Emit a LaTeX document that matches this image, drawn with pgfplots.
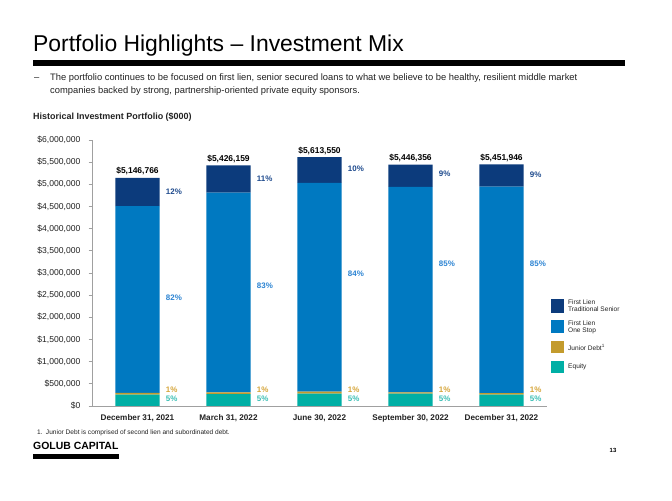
\documentclass[border=0pt]{standalone}
\usepackage{fontspec}
\setmainfont{Liberation Sans}
\usepackage{pgfplots}
\pgfplotsset{compat=1.18}
\usepackage{pgfplotstable}
\definecolor{navy}{HTML}{0C3B7C}
\definecolor{onestop}{HTML}{0079C1}
\definecolor{jrcol}{HTML}{C39B2D}
\definecolor{eqcol}{HTML}{00AFA5}
\definecolor{trlab}{HTML}{1F4B8E}
\definecolor{oslab}{HTML}{2C84D3}
\definecolor{jrlab}{HTML}{D6A53A}
\definecolor{eqlab}{HTML}{3BBFB5}
\definecolor{txt}{HTML}{222222}
\definecolor{axl}{HTML}{A0A0A0}
\pgfplotstableread{
x eq jr os tr
0 257000 40000 4210000 639766
1 265000 45000 4500000 616159
2 280000 45000 4710000 578550
3 280000 25000 4640000 501356
4 255000 35000 4660000 501946
}\datatab
\tikzset{
  totlab/.style={anchor=base, inner sep=0pt, font=\bfseries\fontsize{8.5}{10}\selectfont, text=black, yshift=4bp},
  pctlab/.style={anchor=west, inner sep=0pt, font=\bfseries\fontsize{8}{9}\selectfont, text=#1},
  leglab/.style={anchor=west, inner sep=0pt, align=left, text=txt, font=\fontsize{6.6}{7.3}\selectfont},
}
\begin{document}
\begin{tikzpicture}[x=1bp,y=1bp]
\fill[white] (0,0) rectangle (672,501);
% title
\node[anchor=base west, inner sep=0pt, font=\fontsize{23}{26}\selectfont] at (33,449) {Portfolio Highlights – Investment Mix};
\fill[black] (33,435) rectangle (625,441);
% bullet
\node[anchor=base west, inner sep=0pt, text=txt, font=\fontsize{9.4}{11}\selectfont] at (34,420) {–};
\node[anchor=base west, inner sep=0pt, text=txt, font=\fontsize{9.4}{11}\selectfont] at (50,420) {The portfolio continues to be focused on first lien, senior secured loans to what we believe to be healthy, resilient middle market};
\node[anchor=base west, inner sep=0pt, text=txt, font=\fontsize{9.4}{11}\selectfont] at (50,407.5) {companies backed by strong, partnership-oriented private equity sponsors.};
\node[anchor=base west, inner sep=0pt, text=txt, font=\bfseries\fontsize{9}{10}\selectfont] at (33,381) {Historical Investment Portfolio (\$000)};
\begin{axis}[
  at={(92bp,95bp)}, anchor=south west,
  scale only axis, width=455bp, height=266bp,
  xmin=-0.5, xmax=4.5, ymin=0, ymax=6000000,
  ybar stacked, bar width=0.484,
  axis x line*=bottom, axis y line*=left,
  axis line style={axl, line width=0.8pt},
  tick align=outside, major tick length=3.5bp,
  clip=false,
  scaled y ticks=false,
  ytick={0,500000,1000000,1500000,2000000,2500000,3000000,3500000,4000000,4500000,5000000,5500000,6000000},
  yticklabels={\$0,\$500{,}000,\$1{,}000{,}000,\$1{,}500{,}000,\$2{,}000{,}000,\$2{,}500{,}000,\$3{,}000{,}000,\$3{,}500{,}000,\$4{,}000{,}000,\$4{,}500{,}000,\$5{,}000{,}000,\$5{,}500{,}000,\$6{,}000{,}000},
  yticklabel style={font=\fontsize{8.6}{9}\selectfont, text=txt, inner sep=0pt, xshift=-8bp},
  ytick style={axl, line width=0.8pt},
  xtick={0,1,2,3,4},
  xticklabels={{December 31, 2021},{March 31, 2022},{June 30, 2022},{September 30, 2022},{December 31, 2022}},
  xticklabel style={font=\bfseries\fontsize{8.2}{9}\selectfont, text=txt, inner sep=0pt, yshift=-5bp},
  xtick style={draw=none},
  extra x ticks={-0.5,0.5,1.5,2.5,3.5,4.5},
  extra x tick labels={},
  extra x tick style={xtick style={axl, line width=0.8pt}},
]
\addplot[fill=eqcol, draw=none] table[x=x,y=eq]{\datatab};
\addplot[fill=jrcol, draw=none] table[x=x,y=jr]{\datatab};
\addplot[fill=onestop, draw=none] table[x=x,y=os]{\datatab};
\addplot[fill=navy, draw=none] table[x=x,y=tr]{\datatab};
% totals
\node[totlab] at (axis cs:0,5146766) {\$5,146,766};
\node[totlab] at (axis cs:1,5426159) {\$5,426,159};
\node[totlab] at (axis cs:2,5613550) {\$5,613,550};
\node[totlab] at (axis cs:3,5446356) {\$5,446,356};
\node[totlab] at (axis cs:4,5451946) {\$5,451,946};
% percentages
\node[pctlab=trlab] at (axis cs:0.31,4827000) {12\%};
\node[pctlab=trlab] at (axis cs:1.31,5120000) {11\%};
\node[pctlab=trlab] at (axis cs:2.31,5353000) {10\%};
\node[pctlab=trlab] at (axis cs:3.31,5249000) {9\%};
\node[pctlab=trlab] at (axis cs:4.31,5226000) {9\%};
\node[pctlab=oslab] at (axis cs:0.31,2436000) {82\%};
\node[pctlab=oslab] at (axis cs:1.31,2707000) {83\%};
\node[pctlab=oslab] at (axis cs:2.31,2984000) {84\%};
\node[pctlab=oslab] at (axis cs:3.31,3210000) {85\%};
\node[pctlab=oslab] at (axis cs:4.31,3210000) {85\%};
\node[pctlab=jrlab] at (axis cs:0.31,361000) {1\%};
\node[pctlab=jrlab] at (axis cs:1.31,361000) {1\%};
\node[pctlab=jrlab] at (axis cs:2.31,361000) {1\%};
\node[pctlab=jrlab] at (axis cs:3.31,361000) {1\%};
\node[pctlab=jrlab] at (axis cs:4.31,361000) {1\%};
\node[pctlab=eqlab] at (axis cs:0.31,158000) {5\%};
\node[pctlab=eqlab] at (axis cs:1.31,158000) {5\%};
\node[pctlab=eqlab] at (axis cs:2.31,158000) {5\%};
\node[pctlab=eqlab] at (axis cs:3.31,158000) {5\%};
\node[pctlab=eqlab] at (axis cs:4.31,158000) {5\%};
\end{axis}
% legend
\fill[navy] (551,188.3) rectangle (564,202);
\fill[onestop] (551,168) rectangle (564,181);
\fill[jrcol] (551,148) rectangle (564,160.3);
\fill[eqcol] (551,128) rectangle (564,140.3);
\node[leglab] at (568,195) {First Lien\\Traditional Senior};
\node[leglab] at (568,174) {First Lien\\One Stop};
\node[leglab] at (568,154) {Junior Debt\textsuperscript{1}};
\node[leglab] at (568,134) {Equity};
% footer
\node[anchor=base west, inner sep=0pt, text=txt, font=\fontsize{6.6}{7}\selectfont] at (37,66) {1.\enspace Junior Debt is comprised of second lien and subordinated debt.};
\node[anchor=base west, inner sep=0pt, text=black, font=\bfseries\fontsize{10.5}{12}\selectfont] at (33,51) {GOLUB CAPITAL};
\fill[black] (33,42) rectangle (119,47);
\node[anchor=base, inner sep=0pt, text=black, font=\bfseries\fontsize{6}{7}\selectfont] at (613,48) {13};
\end{tikzpicture}
\end{document}
